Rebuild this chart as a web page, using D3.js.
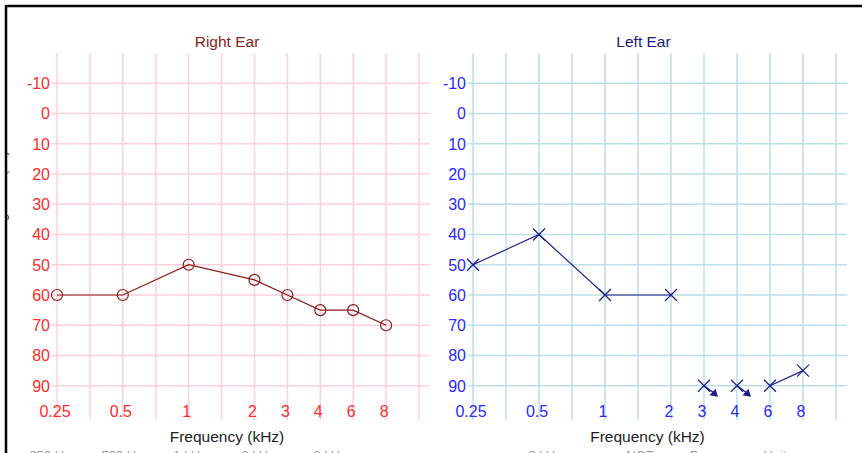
<!DOCTYPE html>
<html><head><meta charset="utf-8">
<script src="https://cdn.jsdelivr.net/npm/d3@7/dist/d3.min.js"></script>
<style>
html,body{margin:0;padding:0;background:#fff;}
svg{display:block;font-family:"Liberation Sans",Arial,sans-serif;}
</style></head>
<body>
<svg id="c" width="862" height="453"></svg>
<script>
// ---- data ----
const gridFreqs = ["0.25","0.375","0.5","0.75","1","1.5","2","3","4","6","8","12"];
const freqLabels = ["0.25","0.5","1","2","3","4","6","8"];
const yTicks = [-10,0,10,20,30,40,50,60,70,80,90];
const rightValues = [60,60,50,55,60,65,65,70];
const rightNoResponse = [false,false,false,false,false,false,false,false];
const leftValues = [50,40,60,60,90,90,90,85];
const leftNoResponse = [false,false,false,false,true,true,false,false];
const panelTitles = ["Right Ear","Left Ear"];
const axisTitle = "Frequency (kHz)";
const yTitle = "Hearing Level (dB)";
const footLeft = ["250 Hz","500 Hz","1 kHz","2 kHz","3 kHz"];
const footRight = ["3 kHz","NOT","Bone","Unit"];

const svg = d3.select("#c");
const W = 862, H = 453;

const y = d3.scaleLinear().domain([-20,100]).range([53,416]);

const panels = [
  {title: panelTitles[0], values: rightValues, nr: rightNoResponse, range:[57,419],
   grid:"#ffd0da", label:"#ff2a2a", line:"#8b1a1a", titleColor:"#8b2222", marker:"circle"},
  {title: panelTitles[1], values: leftValues, nr: leftNoResponse, range:[473,836],
   grid:"#bcdfea", label:"#2a2aff", line:"#1c1c8a", titleColor:"#1c1c80", marker:"x"}
];

panels.forEach((p, pi) => {
  const x = d3.scalePoint().domain(gridFreqs).range(p.range);
  const g = svg.append("g");
  const x0 = p.range[0], x1 = p.range[1];
  const mid = (x0 + x1) / 2 - 11;

  g.selectAll("line.v").data(gridFreqs).join("line")
    .attr("x1", d => x(d)).attr("x2", d => x(d))
    .attr("y1", y(-20)).attr("y2", y(100) + 4)
    .attr("stroke", p.grid).attr("stroke-width", 1.5);
  g.selectAll("line.h").data(yTicks).join("line")
    .attr("x1", x0 - 5).attr("x2", x1 + 11)
    .attr("y1", d => y(d)).attr("y2", d => y(d))
    .attr("stroke", p.grid).attr("stroke-width", 1.5);

  g.selectAll("text.yl").data(yTicks).join("text")
    .attr("x", x0 - 7).attr("y", d => y(d)).attr("dy", "0.36em")
    .attr("text-anchor", "end").attr("fill", p.label)
    .attr("font-size", 16).text(d => d);

  g.selectAll("text.xl").data(freqLabels).join("text")
    .attr("x", d => x(d) - 2).attr("y", 417)
    .attr("text-anchor", "middle").attr("fill", p.label)
    .attr("font-size", 16).text(d => d);

  g.append("text").attr("x", mid).attr("y", 47).attr("text-anchor", "middle")
    .attr("fill", p.titleColor).attr("font-size", 15.5).text(p.title);
  g.append("text").attr("x", mid + (pi ? 4 : 0)).attr("y", 442).attr("text-anchor", "middle")
    .attr("fill", "#222").attr("font-size", 15.5).text(axisTitle);

  const pts = freqLabels.map((f, i) => ({f, v: p.values[i], nr: p.nr[i]}));
  const lineGen = d3.line().defined(d => !d.nr).x(d => x(d.f)).y(d => y(d.v));
  g.append("path").datum(pts).attr("d", lineGen)
    .attr("fill", "none").attr("stroke", p.line).attr("stroke-width", 1.2);

  if (p.marker === "circle") {
    g.selectAll("circle.m").data(pts).join("circle")
      .attr("cx", d => x(d.f)).attr("cy", d => y(d.v)).attr("r", 5.5)
      .attr("fill", "none").attr("stroke", p.line).attr("stroke-width", 1.2);
  } else {
    const s = 6;
    const mg = g.selectAll("g.m").data(pts).join("g")
      .attr("transform", d => `translate(${x(d.f)},${y(d.v)})`);
    mg.append("path").attr("d", `M${-s},${-s}L${s},${s}M${-s},${s}L${s},${-s}`)
      .attr("stroke", p.line).attr("stroke-width", 1.2).attr("fill", "none");
    const nrg = mg.filter(d => d.nr);
    nrg.append("path").attr("d", "M0,0L11,8")
      .attr("stroke", p.line).attr("stroke-width", 1.3).attr("fill", "none");
    nrg.append("path").attr("d", "M14,11L5.5,9.5L11.5,3Z").attr("fill", p.line);
  }
});

const footPos = [50, 122, 190, 258, 330, 545, 640, 705, 775];
footLeft.concat(footRight).forEach((t, i) => {
  svg.append("text").attr("x", footPos[i]).attr("y", 460).attr("text-anchor", "middle")
    .attr("fill", "#9a9a9a").attr("font-size", 13).text(t);
});

svg.append("text").attr("transform", "translate(6,205) rotate(-90)")
  .attr("text-anchor", "middle").attr("fill", "#333").attr("font-size", 13).text(yTitle);

svg.append("rect").attr("x", -4).attr("y", 0).attr("width", 11).attr("height", H).attr("fill", "#fff");
svg.append("line").attr("x1", 6).attr("x2", W).attr("y1", 6).attr("y2", 6)
  .attr("stroke", "#000").attr("stroke-width", 2.5);
svg.append("line").attr("x1", 6).attr("x2", 6).attr("y1", 5).attr("y2", H)
  .attr("stroke", "#000").attr("stroke-width", 2.5);
</script>
</body></html>
